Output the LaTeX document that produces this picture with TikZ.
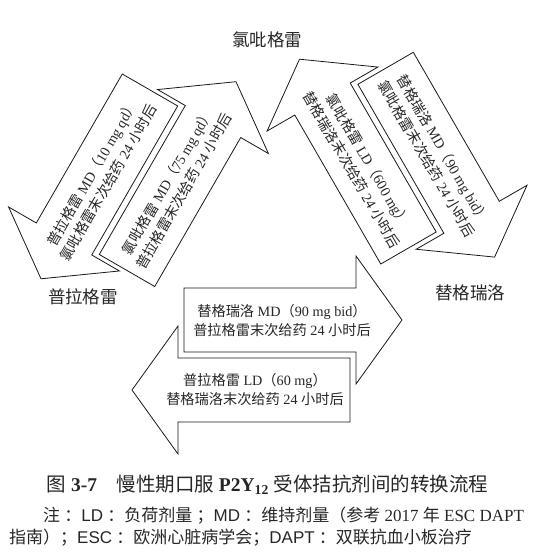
\documentclass[tikz,border=0pt]{standalone}
\usepackage{fontspec}
\setmainfont{Liberation Serif}
\newfontfamily\cjk{Noto Sans CJK SC}
\newfontfamily\notesans{Liberation Sans}
\usepackage{tikz}
\usetikzlibrary{positioning}
\definecolor{inkcolor}{gray}{0.15}
\newcommand{\zh}[1]{{\cjk #1}}
\tikzset{
  arr/.style={draw=black!90, line width=0.8pt, fill=white, line join=miter},
  atxt/.style={font=\fontsize{14.2}{19}\selectfont, align=center, inner sep=0pt, text=inkcolor},
  drug/.style={font=\cjk\fontsize{17.5}{20}\selectfont, text=inkcolor, inner sep=0pt},
  blockarr/.pic={\draw[arr] (0,-32) -- (172,-32) -- (172,-64) -- (218,0) -- (172,64) -- (172,32) -- (0,32) -- cycle;},
}

\begin{document}
\begin{tikzpicture}[x=1pt, y=-1pt]
\useasboundingbox (0,0) rectangle (533,560);
% drugs
\node[drug] (clop) at (267,40) {氯吡格雷};
\node[drug] (pras) at (83,297) {普拉格雷};
\node[drug] (tica) at (470,293) {替格瑞洛};
% clopidogrel <-> prasugrel
\pic[rotate=240] at (150,90) {blockarr};
\pic[rotate=60] at (127,270.5) {blockarr};
\node[atxt, rotate=60] (cp) at (100,178) {\zh{普拉格雷} MD\zh{（}10 mg qd\zh{）}\\\zh{氯吡格雷末次给药} 24 \zh{小时后}};
\node[atxt, rotate=60] (pc) at (175.5,186.5) {\zh{氯吡格雷} MD\zh{（}75 mg qd\zh{）}\\\zh{普拉格雷末次给药} 24 \zh{小时后}};
% clopidogrel <-> ticagrelor
\pic[rotate=120] at (408.5,248) {blockarr};
\pic[rotate=-60] at (385.6,68.3) {blockarr};
\node[atxt, rotate=-60] (tc) at (360,165) {\zh{氯吡格雷} LD\zh{（}600 mg\zh{）}\\\zh{替格瑞洛末次给药} 24 \zh{小时后}};
\node[atxt, rotate=-60] (ct) at (435,154) {\zh{替格瑞洛} MD\zh{（}90 mg bid\zh{）}\\\zh{氯吡格雷末次给药} 24 \zh{小时后}};
% prasugrel <-> ticagrelor
\pic at (184,320) {blockarr};
\pic[rotate=180] at (350,390) {blockarr};
\node[atxt] (pt) at (282,321) {\zh{替格瑞洛} MD\zh{（}90 mg bid\zh{）}\\\zh{普拉格雷末次给药} 24 \zh{小时后}};
\node[atxt] (tp) at (255,390) {\zh{普拉格雷} LD\zh{（}60 mg\zh{）}\\\zh{替格瑞洛末次给药} 24 \zh{小时后}};
% caption
\node[font=\fontsize{19.5}{22}\selectfont, text=inkcolor, inner sep=0pt] (cap) at (267.5,485) {\zh{图} \textbf{3-7}\zh{　慢性期口服} \textbf{P2Y\textsubscript{12}} \zh{受体拮抗剂间的转换流程}};
\node[anchor=west, align=left, inner sep=0pt, font=\fontsize{17}{22}\selectfont, text=inkcolor] (note) at (9,527) {\hspace*{2em}\zh{注} \zh{：}{\notesans LD} \zh{：负荷剂量} \zh{；}{\notesans MD} \zh{：维持剂量（参考} 2017 \zh{年} ESC DAPT\\\zh{指南）；}{\notesans ESC} \zh{：欧洲心脏病学会；}{\notesans DAPT} \zh{：双联抗血小板治疗}};
\end{tikzpicture}
\end{document}
